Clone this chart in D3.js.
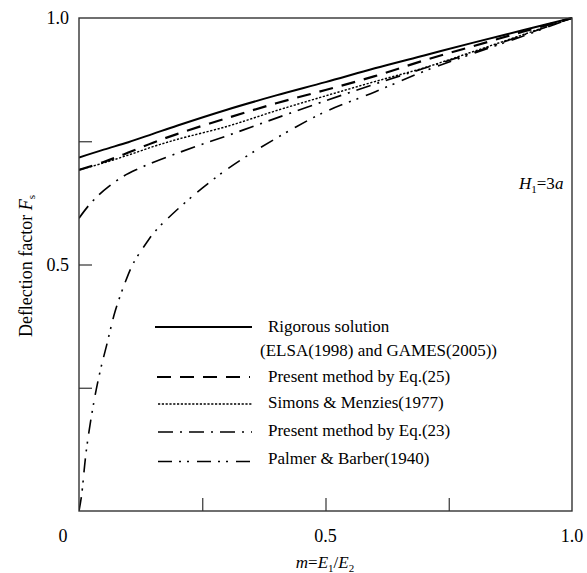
<!DOCTYPE html>
<html>
<head>
<meta charset="utf-8">
<script src="https://cdn.jsdelivr.net/npm/d3@7"></script>
<style>
  html, body { margin: 0; padding: 0; background: #fff; }
  svg text { font-family: "Liberation Serif", "Times New Roman", Times, Tinos, "Noto Serif", "DejaVu Serif", FreeSerif, serif; }
</style>
</head>
<body>
<svg id="chart" width="587" height="573"></svg>
<script>
// Deflection factor Fs against modulus ratio m = E1/E2 (H1 = 3a)
const rigorousM = [0, 0.05, 0.1, 0.15, 0.2, 0.3, 0.4, 0.5, 0.6, 0.7, 0.8, 0.9, 1.0];
const rigorousF = [0.717, 0.733, 0.748, 0.765, 0.782, 0.814, 0.843, 0.870, 0.898, 0.924, 0.950, 0.975, 1.0];

const eq25M = [0, 0.05, 0.1, 0.15, 0.2, 0.3, 0.4, 0.5, 0.6, 0.7, 0.8, 0.9, 1.0];
const eq25F = [0.692, 0.708, 0.727, 0.747, 0.765, 0.797, 0.827, 0.854, 0.882, 0.914, 0.943, 0.972, 1.0];

const simonsM = [0, 0.05, 0.1, 0.15, 0.2, 0.3, 0.4, 0.5, 0.6, 0.7, 0.8, 0.9, 1.0];
const simonsF = [0.692, 0.706, 0.722, 0.739, 0.754, 0.780, 0.812, 0.842, 0.871, 0.899, 0.932, 0.966, 1.0];

const eq23M = [0, 0.02, 0.04, 0.06, 0.09, 0.12, 0.15, 0.2, 0.25, 0.3, 0.35, 0.4, 0.5, 0.6, 0.7, 0.8, 0.9, 1.0];
const eq23F = [0.594, 0.620, 0.641, 0.658, 0.679, 0.694, 0.707, 0.726, 0.744, 0.761, 0.779, 0.797, 0.832, 0.866, 0.898, 0.930, 0.965, 1.0];

const palmerM = [0, 0.005, 0.015, 0.03, 0.043, 0.056, 0.073, 0.093, 0.11, 0.137, 0.154, 0.2, 0.25, 0.3, 0.35, 0.44, 0.5, 0.6, 0.7, 0.8, 0.9, 1.0];
const palmerF = [0, 0.03, 0.124, 0.22, 0.284, 0.336, 0.404, 0.462, 0.502, 0.544, 0.567, 0.612, 0.655, 0.693, 0.726, 0.779, 0.81, 0.85, 0.892, 0.928, 0.963, 1.0];

const seriesNames = [
  ["Rigorous solution", "(ELSA(1998) and GAMES(2005))"],
  ["Present method by Eq.(25)"],
  ["Simons & Menzies(1977)"],
  ["Present method by Eq.(23)"],
  ["Palmer & Barber(1940)"]
];

const xTickValues = [0, 0.5, 1.0];
const xTickLabels = ["0", "0.5", "1.0"];
const yTickValues = [0.5, 1.0];
const yTickLabels = ["0.5", "1.0"];
const innerTicks = [0.25, 0.5, 0.75];

const svg = d3.select("#chart");
const plotL = 79, plotR = 572, plotT = 18, plotB = 511;

const x = d3.scaleLinear().domain([0, 1]).range([plotL, plotR]);
const y = d3.scaleLinear().domain([0, 1]).range([plotB, plotT]);

const styles = [
  { width: 2.0, dash: null },
  { width: 2.2, dash: "14,9" },
  { width: 1.4, dash: "2.2,1.6" },
  { width: 1.7, dash: "15,7,2,7" },
  { width: 1.6, dash: "14,7,2,6,2,8" }
];

const series = [
  { m: rigorousM, f: rigorousF },
  { m: eq25M, f: eq25F },
  { m: simonsM, f: simonsF },
  { m: eq23M, f: eq23F },
  { m: palmerM, f: palmerF }
];

svg.append("defs").append("clipPath").attr("id", "plotClip")
  .append("rect").attr("x", plotL).attr("y", plotT - 2)
  .attr("width", plotR - plotL).attr("height", plotB - plotT + 2);

const line = d3.line()
  .x(d => x(d[0]))
  .y(d => y(d[1]))
  .curve(d3.curveCatmullRom.alpha(0.5));

const plot = svg.append("g").attr("clip-path", "url(#plotClip)");
series.forEach((s, i) => {
  const pts = s.m.map((m, k) => [m, s.f[k]]);
  plot.append("path")
    .attr("d", line(pts))
    .attr("fill", "none")
    .attr("stroke", "#000")
    .attr("stroke-width", styles[i].width)
    .attr("stroke-dasharray", styles[i].dash);
});

// Frame
svg.append("rect")
  .attr("x", plotL).attr("y", plotT)
  .attr("width", plotR - plotL).attr("height", plotB - plotT)
  .attr("fill", "none").attr("stroke", "#333").attr("stroke-width", 1.4);

// Inner ticks
const xAxis = d3.axisBottom(x).tickValues(innerTicks).tickSize(-13).tickFormat("");
const gx = svg.append("g").attr("transform", `translate(0,${plotB})`).call(xAxis);
const yAxis = d3.axisLeft(y).tickValues(innerTicks).tickSize(-13).tickFormat("");
const gy = svg.append("g").attr("transform", `translate(${plotL},0)`).call(yAxis);
[gx, gy].forEach(g => {
  g.select(".domain").remove();
  g.selectAll(".tick line").attr("stroke", "#333").attr("stroke-width", 1.2);
});

// Tick labels
const fs = 18;
svg.append("g").selectAll("text").data(xTickValues).join("text")
  .attr("x", (d, i) => x(d) + (i === 0 ? -16 : 0))
  .attr("y", 542)
  .attr("text-anchor", "middle")
  .attr("font-size", fs)
  .text((d, i) => xTickLabels[i]);

svg.append("g").selectAll("text").data(yTickValues).join("text")
  .attr("x", 69)
  .attr("y", d => y(d) + 6)
  .attr("text-anchor", "end")
  .attr("font-size", fs)
  .text((d, i) => yTickLabels[i]);

// Axis titles
const xt = svg.append("text")
  .attr("x", 325).attr("y", 568)
  .attr("text-anchor", "middle").attr("font-size", 17);
xt.append("tspan").attr("font-style", "italic").text("m");
xt.append("tspan").text("=");
xt.append("tspan").attr("font-style", "italic").text("E");
xt.append("tspan").attr("font-size", 11).attr("dy", 4).text("1");
xt.append("tspan").attr("dy", -4).text("/");
xt.append("tspan").attr("font-style", "italic").text("E");
xt.append("tspan").attr("font-size", 11).attr("dy", 4).text("2");

const yt = svg.append("text")
  .attr("transform", "translate(32,266) rotate(-90)")
  .attr("text-anchor", "middle").attr("font-size", 18);
yt.append("tspan").text("Deflection factor ");
yt.append("tspan").attr("font-style", "italic").text("F");
yt.append("tspan").attr("font-size", 11).attr("dy", 3).text("s");

// Case label
const hl = svg.append("text")
  .attr("x", 519).attr("y", 189)
  .attr("font-size", 17);
hl.append("tspan").attr("font-style", "italic").text("H");
hl.append("tspan").attr("font-size", 11).attr("dy", 4).text("1");
hl.append("tspan").attr("dy", -4).text("=3");
hl.append("tspan").attr("font-style", "italic").text("a");

// Legend
const legendRows = [
  { y: 327, x1: 155, x2: 252, tx: 268, ty: 332 },
  { y: 377, x1: 157, x2: 250, tx: 268, ty: 382 },
  { y: 404, x1: 158, x2: 252, tx: 268, ty: 408 },
  { y: 432, x1: 158, x2: 252, tx: 268, ty: 436 },
  { y: 461.5, x1: 158, x2: 252, tx: 268, ty: 464 }
];
const lg = svg.append("g");
legendRows.forEach((r, i) => {
  lg.append("line")
    .attr("x1", r.x1).attr("x2", r.x2).attr("y1", r.y).attr("y2", r.y)
    .attr("stroke", "#000")
    .attr("stroke-width", styles[i].width)
    .attr("stroke-dasharray", styles[i].dash);
  lg.append("text")
    .attr("x", r.tx).attr("y", r.ty)
    .attr("font-size", 17)
    .text(seriesNames[i][0]);
  if (seriesNames[i][1]) {
    lg.append("text")
      .attr("x", r.tx - 8).attr("y", r.ty + 24)
      .attr("font-size", 17)
      .text(seriesNames[i][1]);
  }
});
</script>
</body>
</html>
